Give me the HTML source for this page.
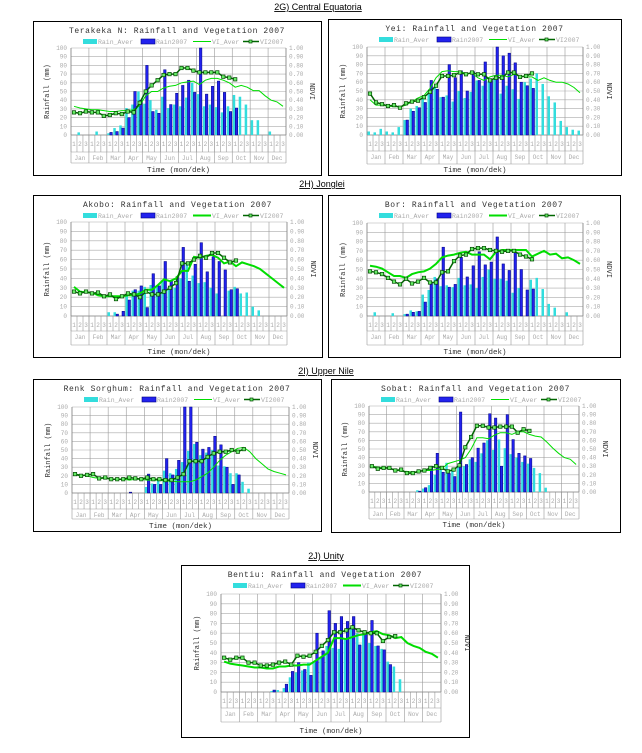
<!DOCTYPE html>
<html><head><meta charset="utf-8"><style>
html,body{margin:0;padding:0;background:#fff;}
svg{display:block;}
</style></head><body>
<svg id="s" width="642" height="753" xmlns="http://www.w3.org/2000/svg" font-family="Liberation Mono, monospace">
<rect width="642" height="753" fill="#fff"/>
<text x="318" y="10" font-family="Liberation Sans, sans-serif" font-size="9" text-anchor="middle" text-decoration="underline">2G) Central Equatoria</text>
<text x="322" y="187" font-family="Liberation Sans, sans-serif" font-size="9" text-anchor="middle" text-decoration="underline">2H) Jonglei</text>
<text x="326" y="374" font-family="Liberation Sans, sans-serif" font-size="9" text-anchor="middle" text-decoration="underline">2I) Upper Nile</text>
<text x="326" y="559" font-family="Liberation Sans, sans-serif" font-size="9" text-anchor="middle" text-decoration="underline">2J) Unity</text>
</svg>
<script>
var N=null;
var charts=[
{b:[33,21,321,175],p:[71,48,286,135],dk:152,mn:163,tm:170,t:"Terakeka N: Rainfall and Vegetation 2007",th:1,
a:[0,3,0,0,4,0,2,8,11,31,35,50,36,40,29,44,31,35,33,43,60,47,33,35,32,26,33,46,44,35,17,17,0,4,0,0],
r:[0,0,0,0,0,0,3,4,8,20,50,40,80,27,25,75,35,48,57,63,49,100,47,56,62,49,27,31],
va:[.33,.31,.30,.29,.29,.28,.27,.27,.28,.28,.29,.34,.45,.50,.50,.54,.56,.57,.60,.61,.62,.58,.63,.65,.65,.63,.60,.55,.57,.55,.51,.51,.45,.40,.38,.33],
v:[.26,.25,.27,.26,.26,.22,.23,.25,.24,.27,.26,.37,.50,.57,.63,.69,.70,.70,.77,.77,.74,.72,.72,.72,.72,.67,.66,.64]},
{b:[328,19,621,175],p:[367,47,583,135],dk:151,mn:164,tm:170,t:"Yei: Rainfall and Vegetation 2007",th:1,
a:[4,3,7,4,3,9,17,30,33,43,50,55,43,45,38,50,42,49,62,56,61,65,47,56,52,41,60,64,70,58,44,37,16,9,6,5],
r:[N,N,N,N,N,N,17,27,31,37,62,52,43,80,65,73,50,72,62,83,62,100,90,93,82,60,56,53],
va:[.40,.34,.34,.33,.32,.32,.34,.38,.42,.45,.53,.65,.72,.73,.72,.72,.70,.70,.65,.62,.66,.68,.68,.66,.69,.67,.66,.66,.62,.65,.62,.60,.60,.58,.54,.48],
v:[.47,.37,.35,.33,.34,.31,.36,.38,.39,.43,.49,.56,.67,.67,.68,.71,.69,.71,.69,.69,.62,.65,.65,.71,.71,.66,.67,.70]},
{b:[33,195,322,357],p:[71,222,287,316],dk:331,mn:345,tm:352,t:"Akobo: Rainfall and Vegetation 2007",th:2,
a:[0,0,0,0,0,0,4,4,0,22,27,27,31,33,32,37,28,30,40,55,43,35,36,30,24,0,27,31,24,25,10,6,0,0,0,0],
r:[0,0,0,0,0,0,0,2,5,17,28,32,9,45,32,58,37,42,73,37,55,78,47,63,58,49,28,29],
va:[.31,.26,.25,.25,.22,.21,.21,.21,.21,.22,.22,.24,.28,.28,.33,.39,.37,.40,.48,.48,.63,.62,.64,.65,.62,.56,.58,.53,.57,.55,.53,.50,.45,.40,.35,.30],
v:[.26,.24,.26,.24,.25,.21,.23,.18,.21,.24,.23,.20,.26,.23,.23,.26,.30,.35,.56,.56,.60,.64,.62,.67,.67,.62,.57,.59]},
{b:[328,195,620,357],p:[367,223,583,316],dk:331,mn:345,tm:352,t:"Bor: Rainfall and Vegetation 2007",th:2,
a:[0,4,0,0,3,0,2,6,5,23,28,42,32,33,31,41,33,34,30,42,50,40,40,38,25,30,0,39,41,29,13,9,0,4,0,0],
r:[0,0,0,0,0,0,2,4,5,15,35,40,74,31,34,63,42,54,69,55,58,85,56,49,68,50,28,29],
va:[.54,.53,.51,.47,.43,.43,.41,.45,.47,.48,.51,.56,.63,.65,.66,.68,.69,.66,.66,.66,.61,.69,.71,.71,.71,.71,.71,.64,.67,.70,.66,.67,.62,.63,.60,.56],
v:[.48,.47,.45,.41,.37,.34,.40,.35,.37,.41,.36,.36,.47,.48,.59,.65,.66,.72,.73,.73,.71,.70,.69,.70,.70,.66,.64,.61]},
{b:[33,379,321,531],p:[72,407,289,493],dk:509,mn:519,tm:526,t:"Renk Sorghum: Rainfall and Vegetation 2007",th:1,
a:[0,0,0,0,0,0,0,0,0,0,0,0,7,11,15,26,23,28,36,49,57,44,47,50,32,31,23,23,13,5,0,0,0,0,0,0],
r:[0,0,0,0,0,0,0,0,0,1,0,0,22,10,10,40,21,38,100,100,59,51,53,66,56,30,10,21],
va:[.22,.21,.20,.18,.17,.17,.16,.16,.16,.15,.16,.16,.15,.15,.15,.14,.14,.13,.13,.13,.15,.19,.23,.30,.38,.44,.48,.52,.53,.48,.40,.34,.28,.25,.23,.21],
v:[.22,.20,.21,.22,.17,.18,.16,.16,.16,.18,.17,.16,.18,.16,.16,.15,.15,.18,.22,.37,.37,.37,.42,.46,.48,.48,.50,.48,.51]},
{b:[331,379,620,532],p:[369,406,579,492],dk:508,mn:519,tm:525,t:"Sobat: Rainfall and Vegetation 2007",th:1,
a:[0,0,0,0,0,0,0,0,2,4,8,20,28,34,25,30,30,38,35,45,60,49,61,51,44,40,35,33,28,22,5,0,0,0,0,0],
r:[0,0,0,0,0,0,0,0,1,5,30,45,23,22,18,93,32,40,51,57,91,86,30,90,61,45,42,39],
va:[.30,.29,.28,.27,.26,.24,.24,.23,.24,.25,.25,.26,.27,.33,.35,.37,.40,.50,.63,.63,.62,.66,.69,.69,.67,.70,.70,.67,.65,.64,.58,.51,.45,.40,.38,.32],
v:[.30,.27,.28,.28,.25,.26,.22,.22,.24,.25,.28,.30,.28,.24,.26,.31,.52,.64,.77,.77,.75,.75,.76,.76,.76,.69,.73,.71]},
{b:[181,565,469,737],p:[221,594,441,692],dk:708,mn:722,tm:731,t:"Bentiu: Rainfall and Vegetation 2007",th:2,
a:[0,0,0,0,0,0,0,0,1,2,4,15,20,22,30,30,36,47,45,44,55,64,60,58,50,47,44,31,26,13,0,0,0,0,0,0],
r:[0,0,0,0,0,0,0,0,2,0,8,21,30,23,17,60,42,83,70,77,72,77,48,60,73,47,43,28],
va:[.31,.29,.28,.27,.26,.25,.25,.24,.24,.26,.26,.27,.27,.28,.28,.32,.36,.40,.55,.55,.54,.56,.58,.59,.61,.62,.59,.58,.55,.56,.50,.47,.45,.41,.39,.35],
v:[.35,.33,.35,.35,.30,.30,.27,.27,.28,.30,.31,.28,.37,.36,.37,.41,.47,.53,.61,.61,.63,.66,.63,.61,.60,.60,.52,.56,.57]}
];
var M=["Jan","Feb","Mar","Apr","May","Jun","Jul","Aug","Sep","Oct","Nov","Dec"];
var o="";
function L(x1,y1,x2,y2,c,w){o+='<line x1="'+x1+'" y1="'+y1+'" x2="'+x2+'" y2="'+y2+'" stroke="'+c+'" stroke-width="'+(w||1)+'"/>';}
function T(x,y,s,fs,c,a,extra){o+='<text x="'+x+'" y="'+y+'" font-size="'+fs+'" fill="'+c+'" text-anchor="'+(a||"start")+'" '+(extra||"")+'>'+s+'</text>';}
charts.forEach(function(c){
 var b=c.b,p=c.p,x0=p[0],y0=p[1],x1=p[2],y1=p[3],W=x1-x0,H=y1-y0,dw=W/36;
 o+='<rect x="'+(b[0]+.5)+'" y="'+(b[1]+.5)+'" width="'+(b[2]-b[0])+'" height="'+(b[3]-b[1])+'" fill="#fff" stroke="#000"/>';
 var cx=(b[0]+b[2])/2;
 T(cx,b[1]+12,c.t,8,"#333","middle",'letter-spacing="0.6"');
 var ly=b[1]+23, lx=x0+12;
 o+='<rect x="'+lx+'" y="'+(ly-5)+'" width="14" height="5" fill="#33dddd"/>';T(lx+15,ly,"Rain_Aver",6.5,"#aaa");
 lx+=58;o+='<rect x="'+lx+'" y="'+(ly-5)+'" width="14" height="5" fill="#2222ee" stroke="#000080" stroke-width=".6"/>';T(lx+15,ly,"Rain2007",6.5,"#aaa");
 lx+=52;L(lx,ly-2.5,lx+18,ly-2.5,"#00dd00",c.th);T(lx+19,ly,"VI_Aver",6.5,"#aaa");
 lx+=50;L(lx,ly-2.5,lx+16,ly-2.5,"#006600",1.5);o+='<rect x="'+(lx+6)+'" y="'+(ly-4)+'" width="3" height="3" fill="#66ee66" stroke="#004400" stroke-width=".7"/>';T(lx+17,ly,"VI2007",6.5,"#aaa");
 for(var i=0;i<=10;i++){var y=y1-H*i/10;L(x0,y,x1,y,"#aaa",.6);T(x0-4,y+2,(i*10)+".00".slice(0,0)+(i==10?"0":"").slice(0,0)+"",6,"#aaa","end");T(x1+3,y+2,(i/10).toFixed(2),6,"#aaa");}
 for(var m=0;m<=12;m++){var x=x0+m*W/12;L(x,y0,x,c.mn,"#999",.6);}
 for(var d=0;d<36;d++){var x=x0+d*dw;L(x,y1,x,c.dk,"#999",.6);T(x+dw/2,y1+11,(d%3)+1,6,"#aaa","middle");}
 L(x0,c.dk,x1,c.dk,"#999",.6);L(x0,c.mn,x1,c.mn,"#999",.6);
 for(var m=0;m<12;m++)T(x0+(m+.5)*W/12,c.dk+8,M[m],6,"#aaa","middle");
 L(x0,y0,x0,y1,"#888",.8);L(x1,y0,x1,y1,"#888",.8);L(x0,y1,x1,y1,"#888",.8);
 T((x0+x1)/2,c.tm+2,"Time (mon/dek)",7.5,"#333","middle");
 var my=(y0+y1)/2;
 T(x0-22,my,"Rainfall (mm)",7,"#333","middle",'transform="rotate(-90 '+(x0-22)+' '+my+')"');
 T(x1+24,my,"NDVI",7,"#333","middle",'transform="rotate(90 '+(x1+24)+' '+my+')"');
 var bw=dw*0.42;
 c.a.forEach(function(v,d){if(v>0){var h=H*v/100;o+='<rect x="'+(x0+d*dw+dw*.08)+'" y="'+(y1-h)+'" width="'+bw+'" height="'+h+'" fill="#33dddd"/>';}});
 c.r.forEach(function(v,d){if(v>0){var h=H*Math.min(v,100)/100;o+='<rect x="'+(x0+d*dw+dw*.5)+'" y="'+(y1-h)+'" width="'+bw+'" height="'+h+'" fill="#2222ee" stroke="#000080" stroke-width=".5"/>';}});
 function pts(a){return a.map(function(v,d){return (x0+(d+.5)*dw).toFixed(1)+","+(y1-H*v).toFixed(1);}).join(" ");}
 o+='<polyline points="'+pts(c.va)+'" fill="none" stroke="#00dd00" stroke-width="'+c.th+'"/>';
 o+='<polyline points="'+pts(c.v)+'" fill="none" stroke="#006600" stroke-width="1.5"/>';
 c.v.forEach(function(v,d){o+='<rect x="'+(x0+(d+.5)*dw-1.7).toFixed(1)+'" y="'+(y1-H*v-1.7).toFixed(1)+'" width="3.4" height="3.4" fill="#66ee66" stroke="#004400" stroke-width=".7"/>';});
});
document.getElementById("s").insertAdjacentHTML("beforeend",o);
</script>
</body></html>
